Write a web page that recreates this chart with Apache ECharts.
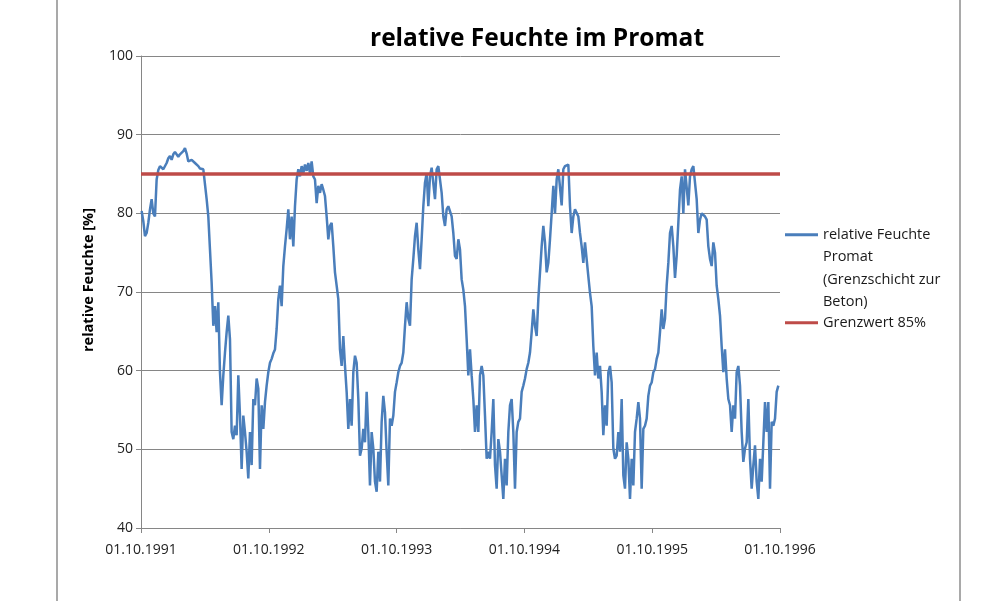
<!DOCTYPE html>
<html><head><meta charset="utf-8">
<script src="https://cdn.jsdelivr.net/npm/echarts@6/dist/echarts.min.js"></script>
<style>html,body{margin:0;padding:0;background:#fff}#c{width:1000px;height:601px}</style>
</head><body><div id="c"></div>
<script>
// tick labels for the x axis (years after 01.10.1991)
const xTickLabels = ['01.10.1991', '01.10.1992', '01.10.1993', '01.10.1994', '01.10.1995', '01.10.1996'];
// relative humidity readings, regular sampling (~4.8 days)
const humidityPart1 = [80.3,79.0,77.1,77.5,78.8,80.5,81.8,80.0,79.6,84.3,85.5,86.0,86.2,85.6,85.8,86.4,87.0,87.3,86.8,87.5,87.8,87.9,87.2,87.5,87.7,87.9,88.3,87.6,86.6,86.7,86.8,86.6,86.4,86.2,86.0,85.7,85.6,85.6,85.6,81.8,79.6,75.4,71.2,65.7,68.2,64.9,68.7,59.8,55.6,59.4,62.3,64.9,67.0,64.0,52.2,51.3,53.0,51.8,59.4,54.3,47.5,54.3,52.2,49.7,46.3,52.2,48.0,56.4,55.6,59.0,57.7,47.5,55.6,52.6,56.0,58.1,59.8,61.0,61.5,62.2,62.7,65.3,69.1,70.8,68.2,73.3,75.8,78.0,80.5,76.7,79.6,75.8,80.9,84.3,85.6,84.7,86.0,85.1,86.2,85.4,86.4,85.1,86.6,84.7,84.3,81.3,83.5,82.6,83.7,83.0,82.2,79.6,76.7,78.4,78.8,75.8,72.5,70.8,69.1,62.7,60.6,64.4];
const humidityPart2 = [60.6,57.3,52.6,56.4,53.0,59.8,61.9,61.0,56.4,49.2,50.1,52.6,50.9,57.3,52.2,45.4,52.2,50.1,45.9,44.6,49.7,45.9,53.5,56.8,54.7,49.7,45.4,53.9,53.0,54.3,57.3,58.5,59.8,60.6,61.0,62.3,65.7,68.7,66.6,65.7,71.6,74.2,77.1,78.8,75.4,72.9,76.7,80.9,83.9,85.1,80.9,84.7,85.8,85.6,81.8,85.6,86.0,86.2,82.6,79.6,78.4,80.5,80.9,80.9,79.6,77.5,74.6,74.2,76.7,75.4,71.6,70.3,68.2,64.0,59.4,62.7,59.4,56.4,52.2,55.6,52.2,59.4,60.6,59.4,54.3,48.8,49.7,48.8,52.2,56.4,48.0,45.0,51.3,49.7,46.7,43.7,48.8,45.4,52.2,55.6,56.4,52.2,45.0,52.2,53.5,53.9,57.3,58.1,59.0,60.2,61.0,62.3,64.9,67.8,65.7,64.4,69.1,72.5,75.8,78.4,76.3,72.5,73.7,76.7,80.0,83.5,80.0,84.3,85.6];
const humidityPart3 = [85.8,81.0,85.6,86.0,86.0,86.2,80.9,77.5,79.6,80.5,80.5,79.6,77.5,75.8,73.7,76.3,76.3,72.0,69.9,68.2,63.1,59.4,62.3,59.0,60.6,57.3,51.8,55.6,53.0,59.8,60.6,58.5,50.1,48.8,49.2,52.2,49.7,56.4,46.7,45.0,50.9,48.8,43.7,48.8,45.4,52.2,53.9,56.0,53.9,45.0,52.6,53.0,53.9,56.8,58.1,58.5,59.8,60.2,61.5,62.3,64.9,67.8,65.3,66.6,70.8,73.7,77.5,78.4,75.8,71.8,74.6,78.8,83.0,84.7,80.0,85.6,85.8,81.0,84.7,85.6,86.0,86.2,81.8,77.5,79.2,80.0,80.2,79.6,79.2,75.8,74.2,73.3,76.3,75.0,70.8,69.1,67.0,63.1,59.8,62.7,59.0,56.4,55.6,52.2,55.6,53.9,59.8,60.6,58.1,52.2,48.4,50.1,50.9,56.4,48.8,45.0,48.0,50.5,45.9,43.7,48.8,45.9,50.9,56.0,52.2,56.0,45.0,53.5,53.0,53.9,57.3,58.1];
const limitValue = 85;
const firstSampleYear = 0.005;
const sampleStepYears = 0.013042;
const seriesNames = ['relative Feuchte Promat (Grenzschicht zur Beton)', 'Grenzwert 85%'];
// leading empty lines keep the first text line level with the legend line
const legendLabels = {
  'relative Feuchte Promat (Grenzschicht zur Beton)': '\n\n\nrelative Feuchte\nPromat\n(Grenzschicht zur\nBeton)',
  'Grenzwert 85%': 'Grenzwert 85%'
};

const humidity = humidityPart1.concat(humidityPart2, humidityPart3);
const humidityData = humidity.map((v, i) => [firstSampleYear + i * sampleStepYears, v]);
const limitData = [[0, limitValue], [xTickLabels.length - 1, limitValue]];

const FONT = 'Open Sans';
const chart = echarts.init(document.getElementById('c'), null, {renderer: 'canvas'});
chart.setOption({
  animation: false,
  backgroundColor: '#ffffff',
  title: {
    text: 'relative Feuchte im Promat',
    left: 365, top: 22,
    textStyle: {fontFamily: FONT, fontSize: 24.5, fontWeight: 'bold', color: '#000'}
  },
  grid: {left: 141, right: 220, top: 56, bottom: 73, containLabel: false},
  legend: {
    orient: 'vertical', left: 780, top: 151,
    itemWidth: 33, itemHeight: 3, itemGap: -2,
    selectedMode: false,
    icon: 'rect',
    textStyle: {fontFamily: FONT, fontSize: 14.5, color: '#1a1a1a', lineHeight: 22.5},
    data: [
      {name: seriesNames[0], icon: 'rect'},
      {name: seriesNames[1], icon: 'rect'}
    ],
    formatter: n => legendLabels[n]
  },
  xAxis: {
    type: 'value', min: 0, max: xTickLabels.length - 1, interval: 1,
    axisLine: {lineStyle: {color: '#868686', width: 1}},
    axisTick: {show: true, length: 5, lineStyle: {color: '#868686'}},
    splitLine: {show: false},
    axisLabel: {margin: 15, fontFamily: FONT, fontSize: 14, color: '#222',
      formatter: v => xTickLabels[Math.round(v)] || ''}
  },
  yAxis: {
    type: 'value', min: 40, max: 100, interval: 10,
    name: 'relative Feuchte [%]', nameLocation: 'middle', nameGap: 45,
    nameTextStyle: {fontFamily: FONT, fontSize: 14.5, fontWeight: 'bold', color: '#000', padding: [0, 0, 0, 24]},
    axisLine: {show: true, lineStyle: {color: '#868686', width: 1}},
    axisTick: {show: true, length: 5, lineStyle: {color: '#868686'}},
    splitLine: {show: true, lineStyle: {color: '#868686', width: 1}},
    axisLabel: {margin: 8, fontFamily: FONT, fontSize: 14, color: '#222'}
  },
  series: [
    {
      name: seriesNames[0], type: 'line', data: humidityData,
      symbol: 'none', showSymbol: false, z: 2,
      color: '#4a7ebb',
      lineStyle: {color: '#4a7ebb', width: 2.5}
    },
    {
      name: seriesNames[1], type: 'line', data: limitData,
      symbol: 'none', showSymbol: false, z: 3,
      color: '#be4b48',
      lineStyle: {color: '#be4b48', width: 3.5}
    }
  ],
  graphic: [
    {type: 'line', shape: {x1: 57, y1: 0, x2: 57, y2: 601}, style: {stroke: '#8c8c8c', lineWidth: 1.5}},
    {type: 'line', shape: {x1: 960, y1: 0, x2: 960, y2: 601}, style: {stroke: '#8c8c8c', lineWidth: 1.5}}
  ]
});
</script></body></html>
